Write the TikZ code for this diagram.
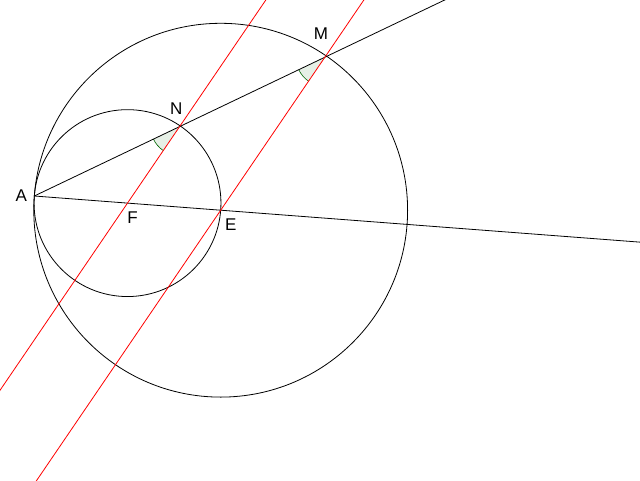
\documentclass[tikz,border=0pt]{standalone}
\usepackage{fontspec}
\setmainfont{Liberation Sans}
\usetikzlibrary{calc,angles}
\definecolor{anglefill}{RGB}{230,240,230}
\definecolor{angledraw}{RGB}{0,100,0}
\tikzset{
  blackline/.style={black, line width=0.8pt},
  redline/.style={red, line width=0.8pt},
  anglemark/.style={draw=angledraw, fill=anglefill, line width=0.6pt, angle radius=29pt},
  ptlabel/.style={font=\fontsize{17}{20}\selectfont, inner sep=0pt}
}
\begin{document}
\begin{tikzpicture}[x=1pt,y=-1pt]
\useasboundingbox (0,0) rectangle (640,480);
\clip (0,0) rectangle (640,480);
\fill[white] (0,0) rectangle (640,480);
\coordinate (A) at (34.3,196);
\coordinate (E) at (220.7,210.2);
\coordinate (F) at ($(A)!0.5!(E)$);
\coordinate (N) at (179.6,126.6);
\coordinate (M) at ($(A)!2!(N)$);
\coordinate (P) at ($(A)!3.2!(N)$);
\coordinate (Q) at ($(A)!3.6!(E)$);
\coordinate (R1) at ($(F)!-3!(N)$);
\coordinate (R2) at ($(F)!3!(N)$);
\coordinate (S1) at ($(E)!-2!(M)$);
\coordinate (S2) at ($(E)!1.5!(M)$);
% angle marks
\pic[anglemark] {angle=A--N--F};
\pic[anglemark] {angle=A--M--E};
% circles
\draw[blackline] (F) circle[radius=93.45];
\draw[blackline] (E) circle[radius=186.9];
% lines
\draw[blackline] (A) -- (P);
\draw[blackline] (A) -- (Q);
\draw[redline] (R1) -- (R2);
\draw[redline] (S1) -- (S2);
% labels
\node[ptlabel] (lA) at (21.3,195.8) {A};
\node[ptlabel] (lN) at (176.2,108.8) {N};
\node[ptlabel] (lM) at (321,33.3) {M};
\node[ptlabel] (lF) at (132.5,217.5) {F};
\node[ptlabel] (lE) at (230.8,224.2) {E};
\end{tikzpicture}
\end{document}
